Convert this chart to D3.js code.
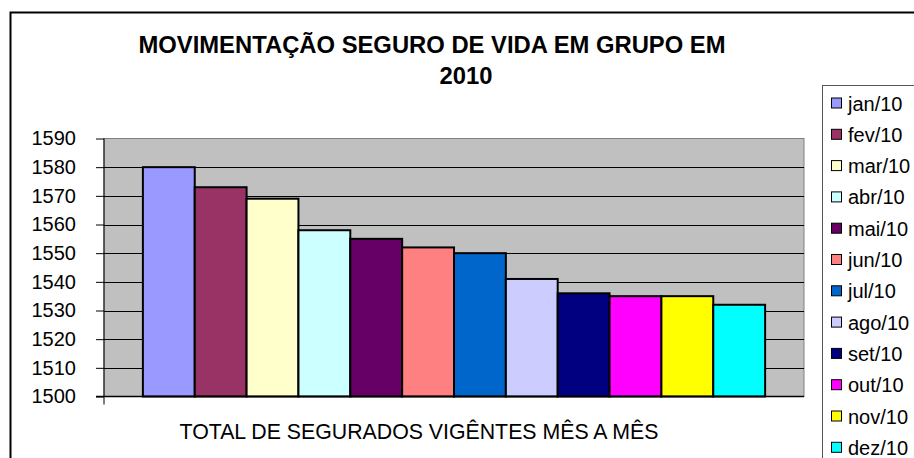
<!DOCTYPE html>
<html>
<head>
<meta charset="utf-8">
<script src="https://cdn.jsdelivr.net/npm/d3@7"></script>
<style>
    body { margin: 0; background: #fff; }
    svg { display: block; font-family: "Liberation Sans", Arial, sans-serif; }
</style>
</head>
<body>
<div id="chart"></div>
<script>
// Dados
const meses = ['jan/10', 'fev/10', 'mar/10', 'abr/10', 'mai/10', 'jun/10',
    'jul/10', 'ago/10', 'set/10', 'out/10', 'nov/10', 'dez/10'];
const segurados = [1580, 1573, 1569, 1558, 1555, 1552, 1550, 1541, 1536, 1535, 1535, 1532];
const cores = ['#9999FF', '#993366', '#FFFFCC', '#CCFFFF', '#660066', '#FF8080',
    '#0066CC', '#CCCCFF', '#000080', '#FF00FF', '#FFFF00', '#00FFFF'];
const ticksY = [1500, 1510, 1520, 1530, 1540, 1550, 1560, 1570, 1580, 1590];

const width = 914, height = 458;
const plot = { left: 104, right: 804, top: 138.5, bottom: 396.5 };

const svg = d3.select('#chart')
    .append('svg')
    .attr('width', width)
    .attr('height', height);

// Borda externa do gráfico (continua além da janela)
svg.append('rect')
    .attr('x', 10.5).attr('y', 12.5)
    .attr('width', 1000).attr('height', 1000)
    .attr('fill', '#fff')
    .attr('stroke', '#000')
    .attr('stroke-width', 2);

const x = d3.scaleBand()
    .domain(meses)
    .range([plot.left, plot.right])
    .paddingInner(0)
    .paddingOuter(0.75);

const y = d3.scaleLinear()
    .domain([1500, 1590])
    .range([plot.bottom, plot.top]);

// Área de plotagem
svg.append('rect')
    .attr('x', plot.left).attr('y', plot.top)
    .attr('width', plot.right - plot.left)
    .attr('height', plot.bottom - plot.top)
    .attr('fill', '#C0C0C0')
    .attr('stroke', '#808080')
    .attr('stroke-width', 1);

// Linhas de grade
svg.append('g')
    .selectAll('line')
    .data(ticksY.filter(d => d > 1500 && d < 1590))
    .join('line')
    .attr('x1', plot.left).attr('x2', plot.right)
    .attr('y1', d => Math.round(y(d)) + 0.5)
    .attr('y2', d => Math.round(y(d)) + 0.5)
    .attr('stroke', '#000')
    .attr('stroke-width', 1);

// Barras
svg.append('g')
    .selectAll('rect')
    .data(meses)
    .join('rect')
    .attr('x', d => x(d))
    .attr('y', (d, i) => y(segurados[i]))
    .attr('width', x.bandwidth())
    .attr('height', (d, i) => y(1500) - y(segurados[i]))
    .attr('fill', (d, i) => cores[i])
    .attr('stroke', '#000')
    .attr('stroke-width', 2);

// Eixo Y
const eixoY = svg.append('g')
    .attr('transform', `translate(${plot.left},0)`)
    .call(d3.axisLeft(y).tickValues(ticksY).tickSize(8).tickPadding(20).tickFormat(d3.format('d')));
eixoY.select('.domain').remove();
eixoY.selectAll('.tick line').attr('stroke', '#000');
eixoY.selectAll('.tick text')
    .attr('font-size', '20px')
    .attr('font-family', '"Liberation Sans", Arial, sans-serif')
    .attr('fill', '#000');
eixoY.append('line')
    .attr('x1', 0).attr('x2', 0)
    .attr('y1', plot.top).attr('y2', plot.bottom + 8)
    .attr('stroke', '#000');

// Eixo X (linha base)
svg.append('line')
    .attr('x1', plot.left - 8).attr('x2', plot.right)
    .attr('y1', plot.bottom).attr('y2', plot.bottom)
    .attr('stroke', '#000')
    .attr('stroke-width', 1.5);

// Título
const titulo = svg.append('g')
    .attr('font-weight', 'bold')
    .attr('font-size', '23.8px')
    .attr('text-anchor', 'middle')
    .attr('fill', '#000');
titulo.append('text')
    .attr('x', 432).attr('y', 53)
    .text('MOVIMENTAÇÃO SEGURO DE VIDA EM GRUPO EM');
titulo.append('text')
    .attr('x', 466).attr('y', 84)
    .text('2010');

// Título do eixo X
svg.append('text')
    .attr('x', 419).attr('y', 439)
    .attr('text-anchor', 'middle')
    .attr('font-size', '21.3px')
    .attr('fill', '#000')
    .text('TOTAL DE SEGURADOS VIGÊNTES MÊS A MÊS');

// Legenda
svg.append('rect')
    .attr('x', 822.5).attr('y', 85.5)
    .attr('width', 200).attr('height', 500)
    .attr('fill', '#fff')
    .attr('stroke', '#555')
    .attr('stroke-width', 1);

const legenda = svg.append('g')
    .selectAll('g')
    .data(meses)
    .join('g')
    .attr('transform', (d, i) => `translate(831,${103.5 + i * 31.3})`);

legenda.append('rect')
    .attr('x', 0.5).attr('y', -5.5)
    .attr('width', 10).attr('height', 10)
    .attr('fill', (d, i) => cores[i])
    .attr('stroke', '#000')
    .attr('stroke-width', 1);

legenda.append('text')
    .attr('x', 17)
    .attr('y', 0)
    .attr('dy', '0.35em')
    .attr('font-size', '20px')
    .attr('fill', '#000')
    .text(d => d);
</script>
</body>
</html>
